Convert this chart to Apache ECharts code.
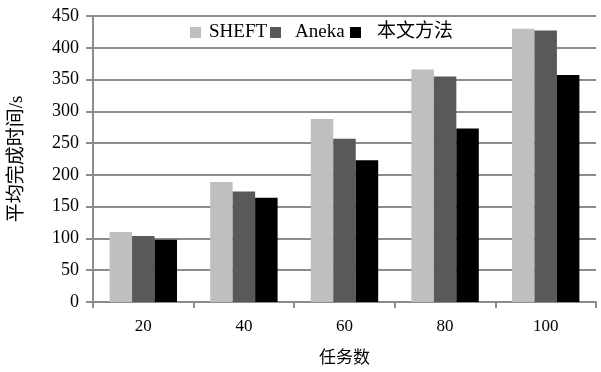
<!DOCTYPE html>
<html><head><meta charset="utf-8">
<script src="https://cdn.jsdelivr.net/npm/echarts@6/dist/echarts.min.js"></script>
<style>html,body{margin:0;padding:0;background:#fff}#c{width:601px;height:372px}</style>
</head><body><div id="c"></div>
<script>
const categories = ['20', '40', '60', '80', '100'];
const seriesNames = ['SHEFT', 'Aneka', '本文方法'];
const sheft = [110, 189, 288, 366, 430];
const aneka = [104, 174, 257, 355, 427];
const ours = [98, 164, 223, 273, 357];
const yTicks = {min: 0, max: 450, interval: 50};
const colors = ['#bfbfbf', '#595959', '#000000'];
const FONT = '"Liberation Serif", "Noto Sans CJK SC", serif';
const chart = echarts.init(document.getElementById('c'));
const gridColor = '#8c8c8c';
const legendLefts = [190, 270, 350];
const legendPads = [3, 9, 11];
const vals = [sheft, aneka, ours];
chart.setOption({
  animation: false,
  textStyle: {fontFamily: FONT},
  grid: {left: 88, right: 5, top: 16, bottom: 70, containLabel: false},
  legend: seriesNames.map((n, i) => ({
    data: [n], left: legendLefts[i], top: 23, padding: 0,
    icon: 'rect', itemWidth: 11, itemHeight: 11, itemGap: 0,
    textStyle: {fontFamily: FONT, fontSize: 19, color: '#000', padding: [0, 0, 0, legendPads[i]]}
  })),
  xAxis: {
    type: 'category', data: categories,
    name: '任务数', nameLocation: 'middle', nameGap: 48,
    nameTextStyle: {fontFamily: FONT, fontSize: 17, color: '#000'},
    axisLine: {lineStyle: {color: gridColor, width: 2}},
    axisTick: {show: true, length: 6, lineStyle: {color: gridColor, width: 2}},
    axisLabel: {fontFamily: FONT, fontSize: 17, color: '#000', margin: 16}
  },
  yAxis: {
    type: 'value', min: yTicks.min, max: yTicks.max, interval: yTicks.interval,
    name: '平均完成时间/s', nameLocation: 'middle', nameGap: 66,
    nameTextStyle: {fontFamily: FONT, fontSize: 19, color: '#000'},
    axisLine: {show: true, lineStyle: {color: gridColor, width: 2}},
    axisTick: {show: true, length: 7, lineStyle: {color: gridColor, width: 2}},
    axisLabel: {fontFamily: FONT, fontSize: 18, color: '#000', margin: 14},
    splitLine: {show: true, lineStyle: {color: gridColor, width: 2}}
  },
  series: seriesNames.map((n, i) => ({
    name: n, type: 'bar', data: vals[i],
    barGap: 0, barCategoryGap: '33%',
    itemStyle: {color: colors[i]}
  }))
});
</script></body></html>
